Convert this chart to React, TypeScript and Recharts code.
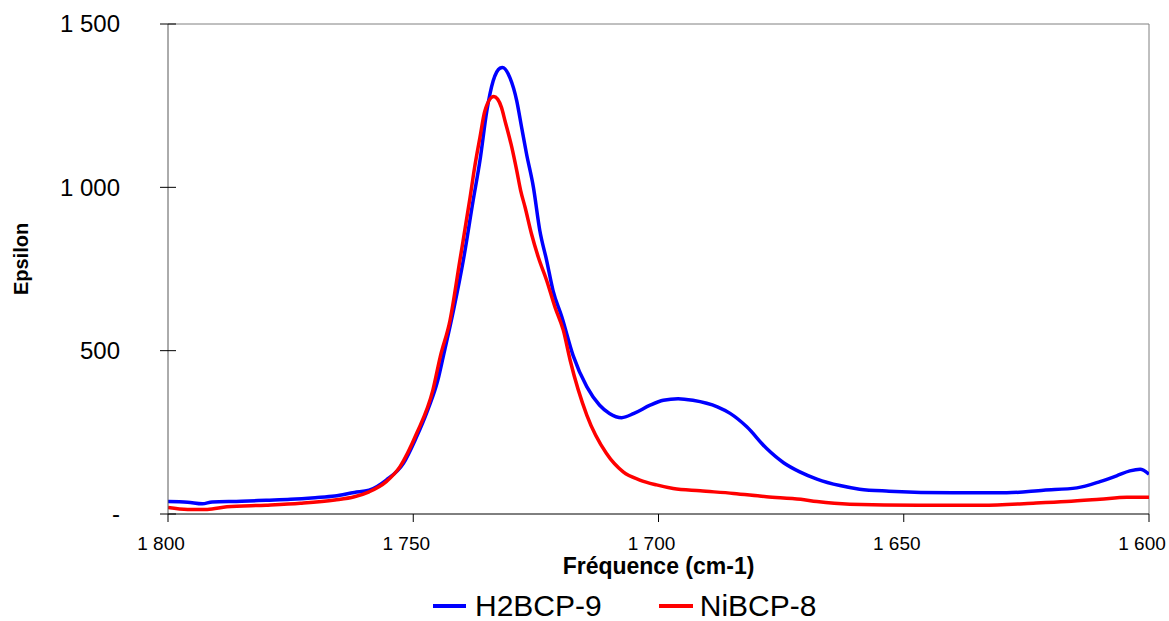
import { LineChart, Line, XAxis, YAxis, ReferenceLine, Legend, Label } from 'recharts';

// wavenumber (cm-1) and epsilon
const h2Freq = [1800, 1796, 1793, 1791, 1785, 1780, 1775, 1770, 1766, 1762, 1759, 1755.5, 1752, 1749.5, 1747, 1745, 1743.9, 1741.8, 1739.8, 1737.8, 1736.4, 1735, 1733.7, 1732.3, 1731.8, 1730.3, 1728.9, 1727.9, 1726.9, 1725.5, 1724.2, 1722.8, 1721.5, 1719.7, 1717.4, 1714.6, 1712, 1710, 1707.5, 1705, 1701.7, 1699, 1696, 1693, 1688, 1685.4, 1682, 1678, 1674.5, 1671.2, 1667.7, 1663, 1659, 1653, 1640, 1629, 1621.5, 1614.7, 1610, 1606.6, 1603.9, 1601.8, 1600];
const h2Eps = [38, 36, 31, 37, 39, 42, 45, 50, 55, 66, 73, 104, 155, 230, 320, 409, 481, 623, 776, 959, 1082, 1234, 1326, 1365, 1367, 1336, 1265, 1183, 1102, 1000, 868, 776, 684, 603, 485, 389, 333, 308, 295, 308, 333, 348, 353, 348, 328, 308, 267, 201, 157, 129, 107, 87, 76, 70, 65, 65, 73, 80, 99, 117, 132, 137, 122];

const niFreq = [1800, 1796, 1792, 1788, 1780, 1773, 1766, 1762, 1759, 1755.5, 1752.7, 1749.3, 1746, 1744.5, 1742.5, 1740.5, 1738.4, 1737.5, 1736.4, 1735.4, 1733.6, 1732.8, 1732, 1731.3, 1729.9, 1728.9, 1728.1, 1727.2, 1725.9, 1724.5, 1722.8, 1721.1, 1719.4, 1718, 1714.6, 1710.6, 1707.2, 1703.8, 1700.4, 1697, 1691.5, 1684.7, 1678, 1671, 1667.7, 1661, 1647, 1634, 1623.6, 1616.8, 1610, 1604.5, 1600];
const niEps = [20, 14, 14, 22, 27, 33, 43, 53, 68, 99, 145, 247, 379, 481, 593, 776, 970, 1060, 1153, 1234, 1278, 1270, 1244, 1204, 1122, 1051, 990, 939, 858, 786, 715, 633, 562, 470, 302, 185, 129, 104, 89, 78, 71, 63, 53, 45, 38, 30, 27, 27, 33, 38, 45, 51, 51];

const xTicks = [1800, 1750, 1700, 1650, 1600];
const yTicks = [0, 500, 1000, 1500];

const FONT = '"Liberation Sans", Arial, sans-serif';

const h2Data = h2Freq.map((f, i) => ({ freq: f, eps: h2Eps[i] }));
const niData = niFreq.map((f, i) => ({ freq: f, eps: niEps[i] }));

// excel style "1 500", zero shown as a dash
const fmt = (v: number) => {
  if (v === 0) return '-';
  if (v < 1000) return String(v);
  return `${Math.floor(v / 1000)} ${String(v % 1000).padStart(3, '0')}`;
};

const YTick = ({ x, y, payload }: any) => (
  <g>
    <line x1={x + 40} x2={x + 56} y1={y} y2={y} stroke="#000" strokeWidth={1} />
    <text x={x} y={y} dy="0.35em" textAnchor="end" fontSize={24} fill="#000" fontFamily={FONT}>
      {fmt(payload.value)}
    </text>
  </g>
);

const XTick = ({ x, y, payload }: any) => (
  <text x={x - 7} y={y} dy="0.71em" textAnchor="middle" fontSize={19} fill="#000" fontFamily={FONT}>
    {fmt(payload.value)}
  </text>
);

const LegendBox = () => (
  <div style={{ height: 45, display: 'flex', alignItems: 'flex-end', fontFamily: FONT }}>
    <div style={{ display: 'flex', alignItems: 'center', height: 30, marginLeft: 433 }}>
      <span style={{ width: 33, height: 4, background: '#0000FF', display: 'inline-block' }} />
      <span style={{ fontSize: 30, marginLeft: 9, color: '#000' }}>H2BCP-9</span>
      <span style={{ width: 34, height: 4, background: '#FF0000', display: 'inline-block', marginLeft: 57 }} />
      <span style={{ fontSize: 30, marginLeft: 7, color: '#000' }}>NiBCP-8</span>
    </div>
  </div>
);

export default function App() {
  return (
    <div style={{ position: 'absolute', left: 0, top: 0, background: '#fff' }}>
      <LineChart width={1169} height={621} margin={{ top: 24, right: 20, left: 0, bottom: 0 }}>
        <XAxis
          dataKey="freq"
          type="number"
          domain={[1600, 1800]}
          reversed
          ticks={xTicks}
          allowDataOverflow
          height={62}
          tickSize={8}
          tickMargin={15}
          stroke="#000"
          tick={<XTick />}
        >
          <Label
            value="Fréquence (cm-1)"
            position="insideBottom"
            offset={2}
            style={{ fontSize: 23, fontWeight: 'bold', fill: '#000', fontFamily: FONT }}
          />
        </XAxis>
        <YAxis
          dataKey="eps"
          type="number"
          domain={[0, 1500]}
          ticks={yTicks}
          width={168}
          tickSize={0}
          tickMargin={48}
          tickLine={false}
          tick={<YTick />}
          stroke="#595959"
        >
          <Label
            value="Epsilon"
            angle={-90}
            position="insideLeft"
            offset={21}
            dy={-10}
            style={{ fontSize: 20, fontWeight: 'bold', fill: '#000', fontFamily: FONT, textAnchor: 'middle' }}
          />
        </YAxis>
        <ReferenceLine y={1500} stroke="#808080" strokeWidth={1} ifOverflow="visible" />
        <ReferenceLine x={1600} stroke="#808080" strokeWidth={1} ifOverflow="visible" />
        <Legend verticalAlign="bottom" content={<LegendBox />} wrapperStyle={{ left: 0, width: 1169 }} />
        <Line
          data={h2Data}
          dataKey="eps"
          name="H2BCP-9"
          type="monotone"
          stroke="#0000FF"
          strokeWidth={3.5}
          dot={false}
          isAnimationActive={false}
        />
        <Line
          data={niData}
          dataKey="eps"
          name="NiBCP-8"
          type="monotone"
          stroke="#FF0000"
          strokeWidth={3.5}
          dot={false}
          isAnimationActive={false}
        />
      </LineChart>
    </div>
  );
}
